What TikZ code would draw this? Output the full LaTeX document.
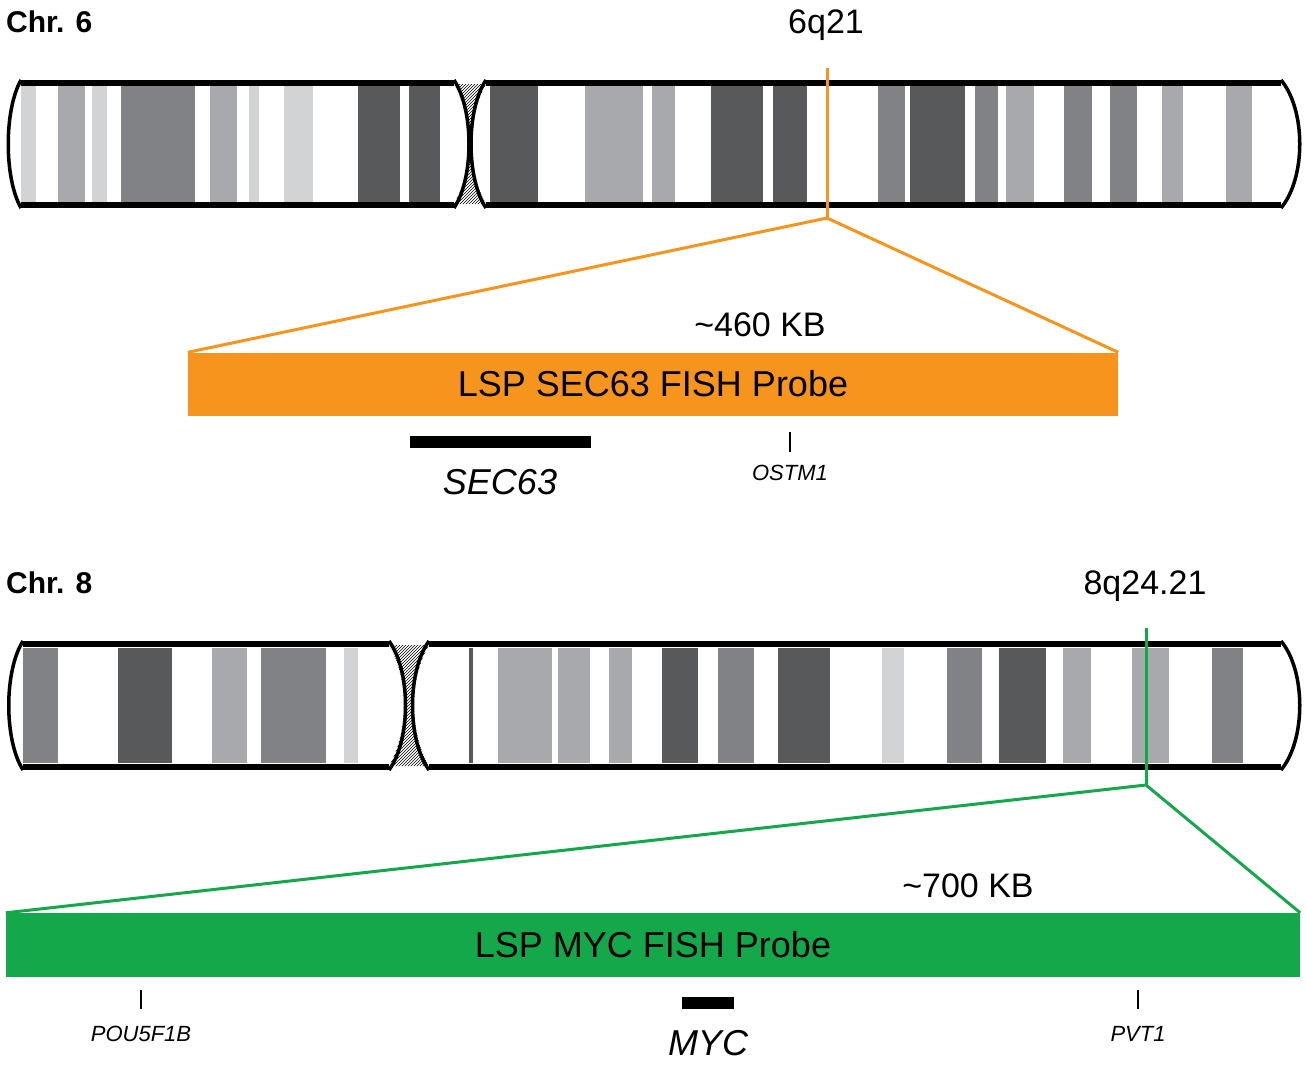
\documentclass[tikz,border=0pt]{standalone}
\usepackage{fontspec}
\setmainfont{Liberation Sans}
\usetikzlibrary{patterns}
\definecolor{lt}{HTML}{D1D3D4}
\definecolor{md}{HTML}{A7A9AC}
\definecolor{gt}{HTML}{808285}
\definecolor{dk}{HTML}{58595B}
\definecolor{orng}{HTML}{F7941D}
\definecolor{grn}{HTML}{14A84B}
\newcommand{\fs}[1]{\fontsize{#1}{#1}\selectfont}
\begin{document}
\begin{tikzpicture}[x=1pt,y=-1pt,
  edge/.style={line width=6pt,line cap=butt},
  chrend/.style={line width=3.5pt},
  lbl/.style={inner sep=0pt,font=\fs{34}},
  gene/.style={inner sep=0pt,font=\fs{22}\itshape},
  tick/.style={line width=2pt}]
\useasboundingbox (0,0) rectangle (1306,1072);
% ---------- Chr 6 ----------
\foreach \a/\b/\c in {21/36/lt,58/85/md,92/107/lt,121/195/gt,210/237/md,249/259/lt,284/313/lt,358/400/dk,409/440/dk,
 490/538/dk,585/643/md,652/675/md,711/763/dk,773/807/dk,878/905/gt,910/965/dk,975/998/gt,1006/1034/md,1064/1092/gt,1110/1137/gt,1162/1183/md,1226/1252/md}
  \fill[\c] (\a,86) rectangle (\b,202);
\path[pattern=north east lines] (454,84) .. controls (474,120) and (474,168) .. (454,204) -- (486,204) .. controls (466,168) and (466,120) .. (486,84) -- cycle;
\draw[edge] (21,83) -- (454,83) (21,205) -- (454,205) (486,83) -- (1281,83) (486,205) -- (1281,205);
\draw[chrend] (21,80) .. controls (4,110) and (4,178) .. (21,208);
\draw[chrend] (454,80) .. controls (474,110) and (474,178) .. (454,208);
\draw[chrend] (486,80) .. controls (466,110) and (466,178) .. (486,208);
\draw[chrend] (1281,80) .. controls (1306,110) and (1306,178) .. (1281,208);
\node[anchor=west,inner sep=0pt,font=\fs{30}\bfseries] (c6) at (6,22) {Chr. 6};
\node[lbl] (b6) at (826,25) {6q21};
\coordinate (o1) at (827,68);
\coordinate (o2) at (827,218);
\draw[orng,line width=3pt] (o1) -- (o2);
\node[fill=orng,minimum width=930pt,minimum height=63pt,inner sep=0pt,font=\fs{36}] (p6) at (653,384) {LSP SEC63 FISH Probe};
\draw[orng,line width=3pt] (p6.north west) -- (o2) -- (p6.north east);
\node[lbl] (k6) at (760,325) {\textasciitilde460 KB};
\node[fill=black,minimum width=181pt,minimum height=12pt,inner sep=0pt] (sec) at (500,442) {};
\node[inner sep=0pt,font=\fs{36}\itshape] (secl) at (500,482) {SEC63};
\coordinate (os) at (790,432);
\draw[tick] (os) -- ++(0,20);
\node[gene] (osl) at (790,473) {OSTM1};
% ---------- Chr 8 ----------
\foreach \a/\b/\c in {23/58/gt,118/172/dk,212/247/md,261/326/gt,344/358/lt,
 469/473/dk,498/552/md,558/590/md,609/632/md,662/698/dk,718/754/gt,778/830/dk,882/904/lt,947/982/gt,999/1046/dk,1063/1091/md,1132/1169/md,1212/1243/gt}
  \fill[\c] (\a,648) rectangle (\b,763);
\path[pattern=north east lines] (389,645) .. controls (409,680) and (409,730) .. (389,766) -- (429,766) .. controls (409,730) and (409,680) .. (429,645) -- cycle;
\draw[edge] (23,644) -- (389,644) (23,767) -- (389,767) (429,644) -- (1281,644) (429,767) -- (1281,767);
\draw[chrend] (23,641) .. controls (4,671) and (4,740) .. (23,770);
\draw[chrend] (389,641) .. controls (411,671) and (411,740) .. (389,770);
\draw[chrend] (429,641) .. controls (407,671) and (407,740) .. (429,770);
\draw[chrend] (1281,641) .. controls (1306,671) and (1306,740) .. (1281,770);
\node[anchor=west,inner sep=0pt,font=\fs{30}\bfseries] (c8) at (6,583) {Chr. 8};
\node[lbl] (b8) at (1145,586) {8q24.21};
\coordinate (g1) at (1146,628);
\coordinate (g2) at (1146,785);
\draw[grn,line width=3pt] (g1) -- (g2);
\node[fill=grn,minimum width=1294pt,minimum height=64pt,inner sep=0pt,font=\fs{36}] (p8) at (653,945) {LSP MYC FISH Probe};
\draw[grn,line width=3pt] (p8.north west) -- (g2) -- (p8.north east);
\node[lbl] (k8) at (968,886) {\textasciitilde700 KB};
\node[fill=black,minimum width=52pt,minimum height=12pt,inner sep=0pt] (myc) at (708,1003) {};
\node[inner sep=0pt,font=\fs{36}\itshape] (mycl) at (708,1043) {MYC};
\coordinate (pu) at (141,990);
\draw[tick] (pu) -- ++(0,19);
\node[gene] (pul) at (141,1034) {POU5F1B};
\coordinate (pv) at (1138,990);
\draw[tick] (pv) -- ++(0,19);
\node[gene] (pvl) at (1138,1034) {PVT1};
\end{tikzpicture}
\end{document}
